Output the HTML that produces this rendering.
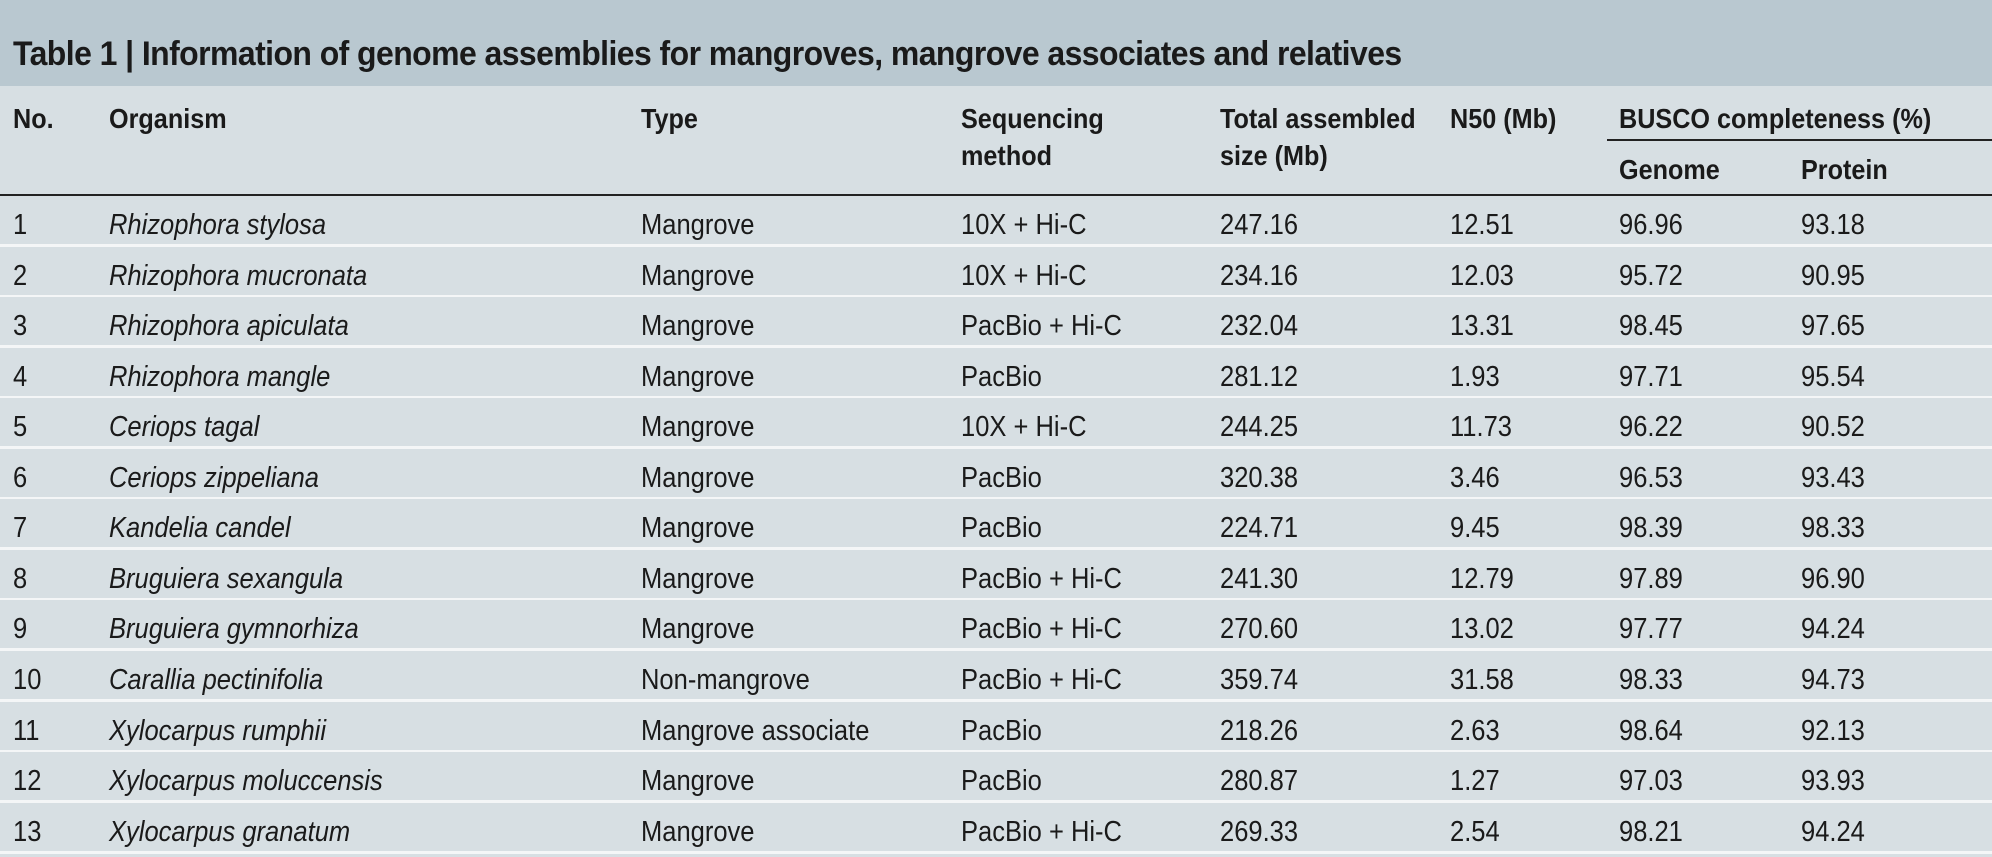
<!DOCTYPE html>
<html><head><meta charset="utf-8">
<style>
html,body{margin:0;padding:0}
body{width:1992px;height:819px;overflow:hidden;background:#d7dfe3;position:relative;font-family:"Liberation Sans",sans-serif;color:#1a1a1a}
#title{position:absolute;left:0;top:0;width:1992px;height:86px;background:#b9c8d0}
#title span{position:absolute;left:13px;top:35px;font-weight:bold;font-size:34px;letter-spacing:-0.6px;white-space:nowrap;transform:scaleX(0.94);transform-origin:0 0}
.h{position:absolute;font-weight:bold;font-size:28px;line-height:37px;white-space:nowrap;transform:scaleX(0.9);transform-origin:0 0}
.row{position:absolute;left:0;width:1992px;height:48px;border-bottom:3px solid #f4f6f7;background:#d7dfe3}
.c{position:absolute;top:4px;line-height:50px;font-size:29px;white-space:nowrap;transform:scaleX(0.88);transform-origin:0 0}
i{font-style:italic}
#hline{position:absolute;left:0;top:194px;width:1992px;height:2px;background:#222}
#bline{position:absolute;left:1607px;top:139px;width:385px;height:2px;background:#222}
</style></head><body>
<div id="title"><span>Table 1 | Information of genome assemblies for mangroves, mangrove associates and relatives</span></div>
<div class="h" style="left:13px;top:100px">No.</div>
<div class="h" style="left:109px;top:100px">Organism</div>
<div class="h" style="left:641px;top:100px">Type</div>
<div class="h" style="left:961px;top:100px">Sequencing<br>method</div>
<div class="h" style="left:1220px;top:100px">Total assembled<br>size (Mb)</div>
<div class="h" style="left:1450px;top:100px">N50 (Mb)</div>
<div class="h" style="left:1619px;top:100px">BUSCO completeness (%)</div>
<div id="bline"></div>
<div class="h" style="left:1619px;top:151px">Genome</div>
<div class="h" style="left:1801px;top:151px">Protein</div>
<div id="hline"></div>
<div id="rows"></div>
<script>
const nums=["1","2","3","4","5","6","7","8","9","10","11","12","13"];
const organisms=["Rhizophora stylosa","Rhizophora mucronata","Rhizophora apiculata","Rhizophora mangle","Ceriops tagal","Ceriops zippeliana","Kandelia candel","Bruguiera sexangula","Bruguiera gymnorhiza","Carallia pectinifolia","Xylocarpus rumphii","Xylocarpus moluccensis","Xylocarpus granatum"];
const types=["Mangrove","Mangrove","Mangrove","Mangrove","Mangrove","Mangrove","Mangrove","Mangrove","Mangrove","Non-mangrove","Mangrove associate","Mangrove","Mangrove"];
const methods=["10X + Hi-C","10X + Hi-C","PacBio + Hi-C","PacBio","10X + Hi-C","PacBio","PacBio","PacBio + Hi-C","PacBio + Hi-C","PacBio + Hi-C","PacBio","PacBio","PacBio + Hi-C"];
const sizes=["247.16","234.16","232.04","281.12","244.25","320.38","224.71","241.30","270.60","359.74","218.26","280.87","269.33"];
const n50=["12.51","12.03","13.31","1.93","11.73","3.46","9.45","12.79","13.02","31.58","2.63","1.27","2.54"];
const genome=["96.96","95.72","98.45","97.71","96.22","96.53","98.39","97.89","97.77","98.33","98.64","97.03","98.21"];
const protein=["93.18","90.95","97.65","95.54","90.52","93.43","98.33","96.90","94.24","94.73","92.13","93.93","94.24"];
const cols=[13,109,641,961,1220,1450,1619,1801];
const host=document.getElementById('rows');
for(let r=0;r<nums.length;r++){
  const row=document.createElement('div');
  row.className='row';
  row.style.top=(196+r*50.55)+'px';
  
  
  const vals=[nums[r],organisms[r],types[r],methods[r],sizes[r],n50[r],genome[r],protein[r]];
  const names=['row-number','organism-name','organism-type','sequencing-method','total-size','n50-value','busco-genome','busco-protein'];
  for(let c=0;c<vals.length;c++){
    const d=document.createElement('div');
    d.className='c';
    d.style.left=cols[c]+'px';
    if(c===1){const it=document.createElement('i');it.textContent=vals[c];d.appendChild(it);}
    else d.textContent=vals[c];
    
    
    row.appendChild(d);
  }
  host.appendChild(row);
}
</script>
</body></html>
